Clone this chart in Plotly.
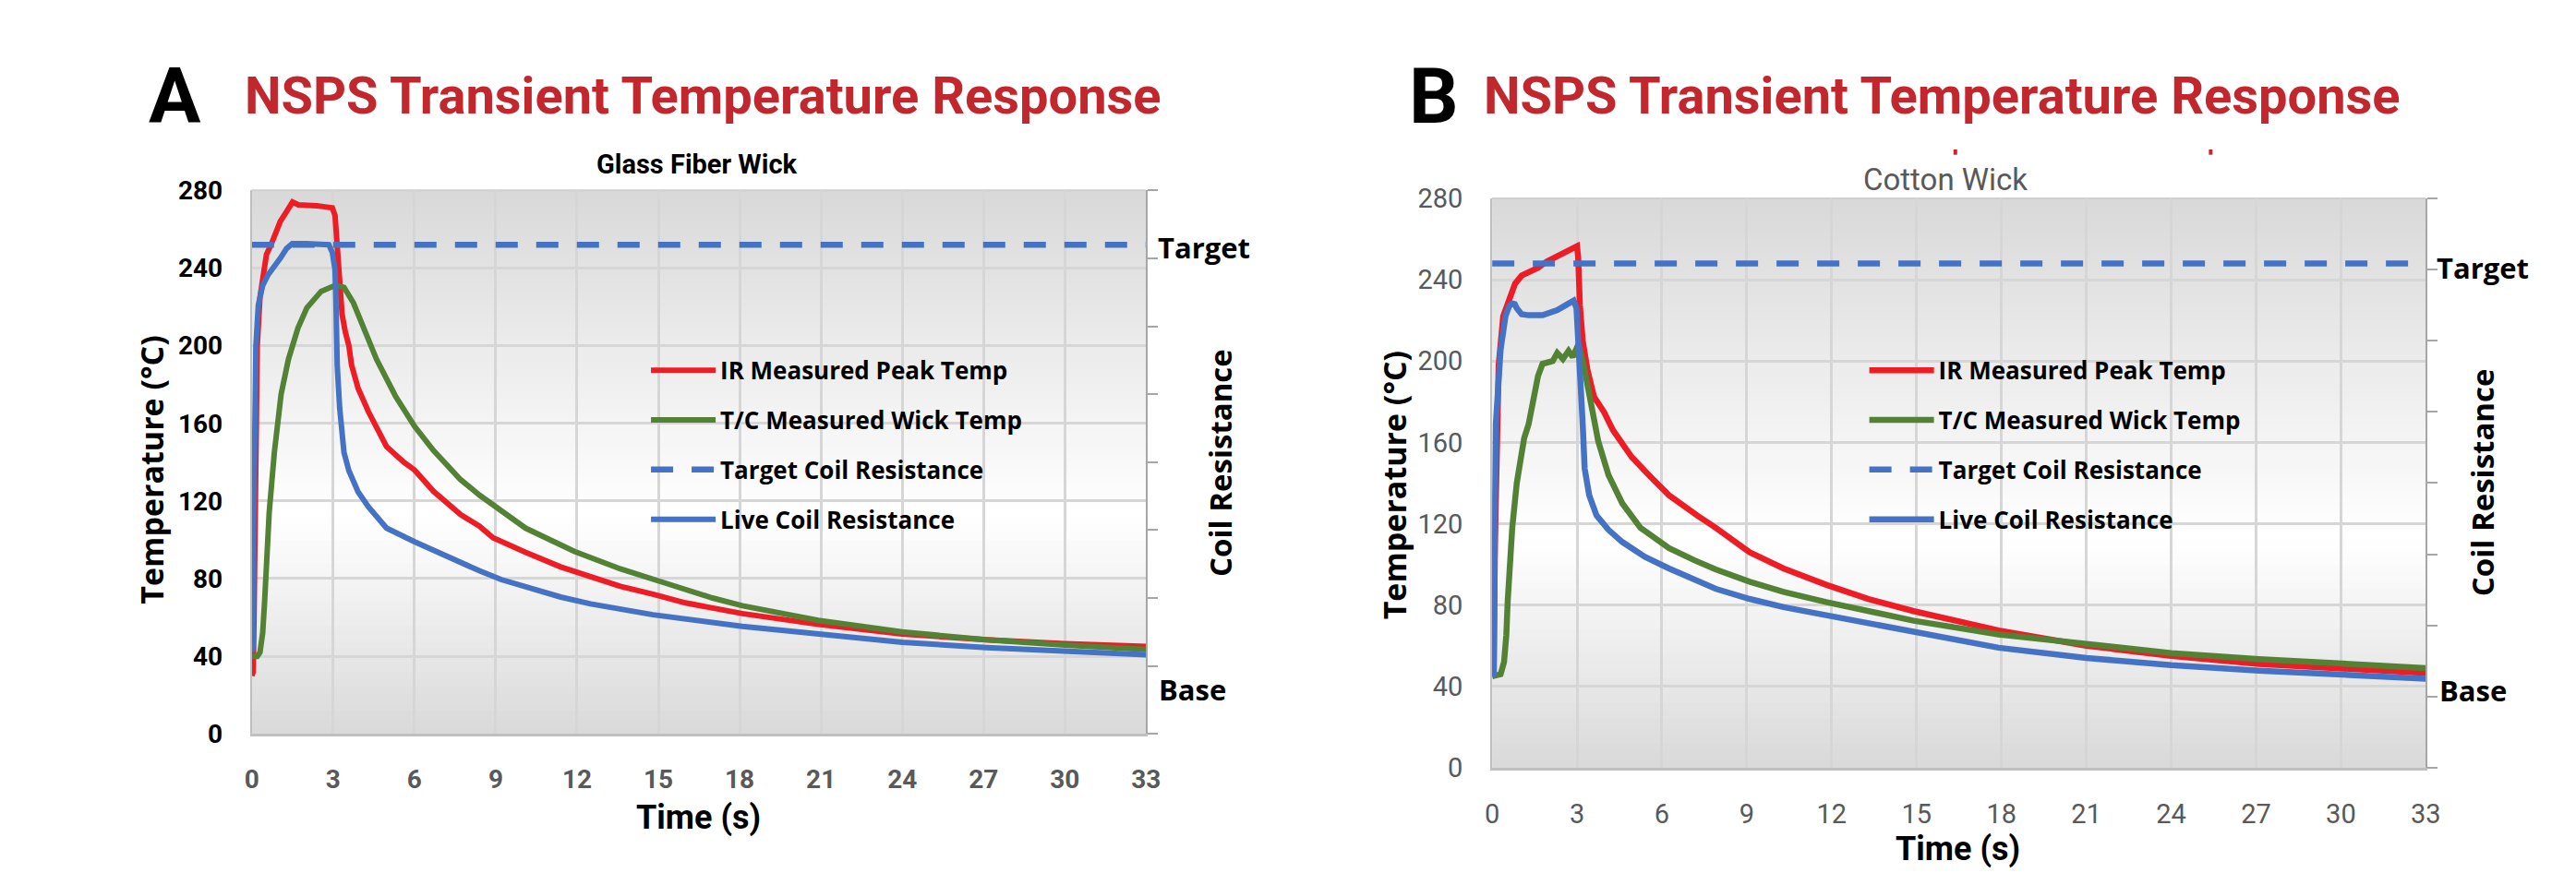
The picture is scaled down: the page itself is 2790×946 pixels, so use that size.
import plotly.graph_objects as go

# ---------------- DATA ----------------
# Chart A: Glass Fiber Wick
a_ir_t = [0, 0.05, 0.08, 0.12, 0.2, 0.3, 0.37, 0.47, 0.54, 0.71, 0.88, 1.05, 1.28, 1.45, 1.5, 1.72, 2.0, 2.4, 2.7, 2.97,
          3.07, 3.15, 3.24, 3.33, 3.45, 3.58, 3.68, 3.92, 4.3, 4.97, 5.6, 6.0, 6.7, 7.7, 8.4, 8.9, 10.1, 11.4, 12.5,
          13.6, 14.8, 16.0, 18.1, 20.9, 24, 27.1, 30, 33]
a_ir_v = [30, 32, 60, 130, 200, 225, 232, 244, 247, 252, 259, 264, 269, 273, 274, 272.5, 272, 272, 271.5, 271,
          267, 252, 232, 216, 207, 200, 190, 178, 166, 148, 140, 136, 125, 113, 107, 101, 93.5, 86, 81,
          76, 72, 67.5, 62, 56.4, 51.5, 48.5, 46.5, 45]

a_tc_t = [0, 0.2, 0.3, 0.4, 0.47, 0.55, 0.64, 0.83, 1.08, 1.35, 1.7, 2.03, 2.56, 3.07, 3.4, 3.75, 4.1, 4.6, 5.3, 6.0,
          6.7, 7.7, 8.4, 10.1, 11.9, 13.6, 15.3, 17, 18.1, 20.9, 24, 27.1, 30, 33]
a_tc_v = [40, 40, 42, 52, 68, 90, 114, 145, 175, 193, 209, 219.5, 228, 231, 230, 222, 210, 193, 174, 158.5,
          146, 131, 123, 106, 94, 85, 77.5, 70, 66, 58.5, 52.5, 48.5, 45.8, 43.5]

a_live_t = [0, 0.04, 0.06, 0.1, 0.15, 0.24, 0.4, 0.6, 0.81, 1.05, 1.28, 1.49, 2.0, 2.5, 2.84, 2.97, 3.07, 3.1, 3.15,
            3.24, 3.4, 3.58, 3.92, 4.3, 4.97, 6.0, 6.7, 8.4, 9.2, 10.1, 11.4, 12.5, 14.8, 18.1, 20.9, 24, 27.1, 30, 33]
a_live_v = [42, 45, 100, 160, 200, 221, 231, 236.5, 240, 245, 250, 252.5, 252.5, 252, 252, 248, 239, 225, 190,
            168, 145, 135.6, 124.7, 117, 106, 99, 94.4, 84, 79.5, 76, 70.5, 67, 61.4, 55.4, 51.3, 47.2, 44.5, 42.6, 40.8]

a_target = 252

# Chart B: Cotton Wick
b_ir_t = [0, 0.05, 0.1, 0.16, 0.23, 0.39, 0.55, 0.81, 1.04, 1.29, 1.62, 1.94, 2.3, 2.62, 2.94, 3.0, 3.04, 3.1, 3.2,
          3.37, 3.6, 3.95, 4.27, 4.92, 5.6, 6.25, 7.25, 7.9, 9.1, 10.3, 11.8, 13.3, 14.9, 17.9, 21, 24, 27.1, 30.1, 33]
b_ir_v = [45, 46, 110, 170, 198, 222, 229, 238, 242, 243.7, 245.8, 249, 251.6, 254, 256, 256.5, 251, 227.6, 210,
          195.5, 182.4, 175, 166, 153, 143, 134, 124, 118, 106, 98, 90, 83, 77, 67.5, 60, 55, 51, 48.6, 46.6]

b_tc_t = [0, 0.3, 0.42, 0.5, 0.55, 0.71, 0.87, 1.13, 1.29, 1.46, 1.62, 1.78, 2.14, 2.3, 2.5, 2.7, 2.85, 3.04, 3.1,
          3.27, 3.53, 3.75, 4.11, 4.6, 5.24, 6.25, 7.15, 7.9, 9.1, 10.3, 11.8, 14.9, 17.9, 21, 24, 27.1, 30.1, 33]
b_tc_v = [45, 46, 52, 65, 82, 118, 140, 162, 169, 181, 192.5, 198.6, 200, 204, 201, 205, 202, 208, 206,
          195.5, 176.7, 160.5, 144, 130, 118, 108, 102, 97.5, 91.5, 86.5, 81.5, 72.3, 65.5, 60.5, 56.4, 53.4, 50.9, 49]

b_live_t = [0, 0.06, 0.1, 0.13, 0.3, 0.47, 0.6, 0.71, 0.8, 0.87, 1.04, 1.29, 1.78, 2.3, 2.62, 2.88, 2.98, 3.1, 3.2,
            3.27, 3.43, 3.69, 4.11, 4.6, 5.4, 6.25, 7.9, 9.1, 10.3, 11.8, 14.9, 17.9, 21, 24, 27.1, 30.1, 33]
b_live_v = [45, 46, 130, 169, 205.7, 222, 227, 228.3, 228, 226, 223, 222.5, 222.5, 225, 227.6, 229.7, 226, 198.6, 169,
            147, 134, 124, 117, 111, 103.7, 98, 88, 83, 79, 75, 66.5, 59, 54, 50.4, 47.7, 45.5, 43.8]

b_target = 248

time_span = [0, 33]
series_names = ["IR Measured Peak Temp", "T/C Measured Wick Temp", "Target Coil Resistance", "Live Coil Resistance"]

# ---------------- STYLE ----------------
W, H = 2790, 946
RED, GREEN, BLUE = "#EE1C25", "#548235", "#4472C4"
TITLE_RED = "#C1272D"
GRAY_TXT = "#595959"


def xp(px):
    return px / W


def yp(py):
    return 1 - py / H


fig = go.Figure()


def add_chart(suffix, legend_name, ir, tc, target, live, lw):
    xa = "x" + suffix
    ya = "y" + suffix
    common = dict(xaxis=xa, yaxis=ya, legend=legend_name, mode="lines")
    fig.add_trace(go.Scatter(x=ir[0], y=ir[1], name=series_names[0], legendgroup=legend_name + "a",
                             line=dict(color=RED, width=lw), **common))
    fig.add_trace(go.Scatter(x=tc[0], y=tc[1], name=series_names[1], legendgroup=legend_name + "b",
                             line=dict(color=GREEN, width=lw), **common))
    fig.add_trace(go.Scatter(x=time_span, y=[target, target], name=series_names[2], legendgroup=legend_name + "c",
                             line=dict(color=BLUE, width=6.5, dash="24px,20px"), **common))
    fig.add_trace(go.Scatter(x=live[0], y=live[1], name=series_names[3], legendgroup=legend_name + "d",
                             line=dict(color=BLUE, width=lw), **common))


add_chart("", "legend", (a_ir_t, a_ir_v), (a_tc_t, a_tc_v), a_target, (a_live_t, a_live_v), 6)
add_chart("2", "legend2", (b_ir_t, b_ir_v), (b_tc_t, b_tc_v), b_target, (b_live_t, b_live_v), 6.5)

# gradient background bands
shapes = []


def gray_at(f):
    if f <= 0.4:
        g = 217 + (255 - 217) * (f / 0.4)
    else:
        g = 255 - (255 - 217) * ((f - 0.4) / 0.6)
    g = int(round(g))
    return f"rgb({g},{g},{g})"


nb = 70
for sfx in ["", "2"]:
    for i in range(nb):
        f0, f1 = i / nb, (i + 1) / nb
        shapes.append(dict(type="rect", xref=f"x{sfx} domain", yref=f"y{sfx} domain", x0=0, x1=1,
                           y0=f0, y1=min(1, f1 + 0.004), fillcolor=gray_at((f0 + f1) / 2),
                           line=dict(width=0), layer="below"))
    # faint top border
    shapes.append(dict(type="line", xref=f"x{sfx} domain", yref=f"y{sfx} domain", x0=0, x1=1, y0=1, y1=1,
                       line=dict(color="#CFCFCF", width=2), layer="below"))

# tiny red specks above chart B
for cx in [2120, 2399]:
    shapes.append(dict(type="rect", xref="paper", yref="paper", x0=xp(cx - 2), x1=xp(cx + 2),
                       y0=yp(148), y1=yp(142), fillcolor=TITLE_RED, line=dict(width=0)))

grid = dict(showgrid=True, gridcolor="#D6D6D6", gridwidth=3, zeroline=False)

xaxis_common = dict(range=[0, 33], tick0=0, dtick=3, showline=True, linecolor="#BFBFBF", linewidth=3,
                    ticks="outside", ticklen=22, tickcolor="rgba(0,0,0,0)", **grid)
yaxis_common = dict(range=[0, 280], tick0=0, dtick=40, showline=True, linecolor="#BFBFBF", linewidth=2,
                    ticks="outside", ticklen=24, tickcolor="rgba(0,0,0,0)", **grid)
right_common = dict(side="right", range=[0, 8], dtick=1, showgrid=False, zeroline=False, showline=True,
                    linecolor="#A6A6A6", linewidth=2, ticks="outside", ticklen=11, tickwidth=2,
                    tickcolor="#A6A6A6", showticklabels=False)

legend_common = dict(xanchor="left", yanchor="top", bgcolor="rgba(0,0,0,0)", itemwidth=70,
                     tracegroupgap=17, traceorder="grouped",
                     font=dict(family="Open Sans", size=26, color="#000000", weight="bold"))

fig.update_layout(
    width=W, height=H, margin=dict(l=0, r=0, t=0, b=0),
    paper_bgcolor="white", plot_bgcolor="white",
    showlegend=True,
    xaxis=dict(domain=[xp(259), xp(1236)], anchor="y",
               tickfont=dict(family="Roboto", size=28, color=GRAY_TXT, weight="bold"), **xaxis_common),
    yaxis=dict(domain=[yp(799), yp(188)], anchor="x",
               tickfont=dict(family="Roboto", size=28, color="#000000", weight="bold"), **yaxis_common),
    yaxis3=dict(overlaying="y", anchor="x", **right_common),
    xaxis2=dict(domain=[xp(1614), xp(2634)], anchor="y2",
                tickfont=dict(family="Roboto", size=29, color=GRAY_TXT), **xaxis_common),
    yaxis2=dict(domain=[yp(837), yp(197)], anchor="x2",
                tickfont=dict(family="Roboto", size=29, color=GRAY_TXT), **yaxis_common),
    yaxis4=dict(overlaying="y2", anchor="x2", **right_common),
    legend=dict(x=xp(690), y=yp(366), **legend_common),
    legend2=dict(x=xp(2021), y=yp(366), **legend_common),
    shapes=shapes,
)

# dummy traces to activate right axes
fig.add_trace(go.Scatter(x=[None], y=[None], xaxis="x", yaxis="y3", showlegend=False, hoverinfo="skip"))
fig.add_trace(go.Scatter(x=[None], y=[None], xaxis="x2", yaxis="y4", showlegend=False, hoverinfo="skip"))


def ann(text, x, y, size, family="Roboto", color="#000000", bold=True, xanchor="center", angle=0):
    return dict(text=text, x=xp(x), y=yp(y), xref="paper", yref="paper", showarrow=False,
                xanchor=xanchor, yanchor="middle", textangle=angle,
                font=dict(family=family, size=size, color=color, weight="bold" if bold else "normal"))


annotations = [
    ann("A", 175, 82, 84),
    ann("B", 1550, 82, 84),
    ann("NSPS Transient Temperature Response", 752, 82, 56, color=TITLE_RED),
    ann("NSPS Transient Temperature Response", 2106, 82, 56, color=TITLE_RED),
    ann("Glass Fiber Wick", 745, 159, 29),
    ann("Cotton Wick", 2109, 176, 33, color=GRAY_TXT, bold=False),
    ann("Temperature (°C)", 149, 502, 34, family="Open Sans", angle=-90),
    ann("Temperature (°C)", 1507, 520, 34, family="Open Sans", angle=-90),
    ann("Coil Resistance", 1317, 494, 33, family="Open Sans", angle=-90),
    ann("Coil Resistance", 2696, 516, 33, family="Open Sans", angle=-90),
    ann("Time (s)", 747, 893, 36),
    ann("Time (s)", 2123, 928, 36),
    ann("Target", 1247, 252, 31, family="Open Sans", xanchor="left"),
    ann("Base", 1248, 749, 31, family="Open Sans", xanchor="left"),
    ann("Target", 2644, 275, 31, family="Open Sans", xanchor="left"),
    ann("Base", 2647, 750, 31, family="Open Sans", xanchor="left"),
]
fig.update_layout(annotations=annotations)

fig.write_html("out.html")
